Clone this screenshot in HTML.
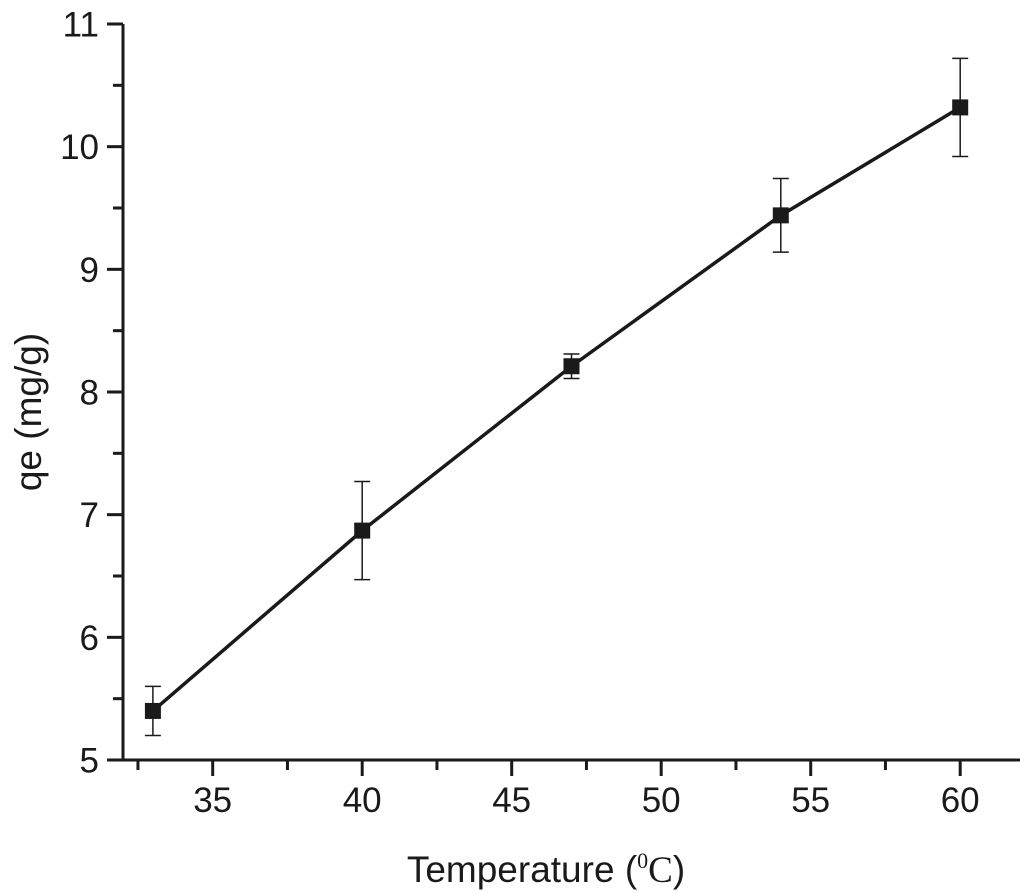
<!DOCTYPE html>
<html><head><meta charset="utf-8"><style>
body{margin:0;background:#fff}
svg{display:block}
text{font-family:"Liberation Sans",sans-serif;fill:#1a1a1a}
</style></head><body>
<svg id="chart" width="1024" height="893" viewBox="0 0 1024 893">
<g id="axes"></g>
<g id="series"></g>
<text x="546" y="882" font-size="37" text-anchor="middle">Temperature (<tspan font-family="Liberation Serif" font-size="22" dy="-14">0</tspan><tspan dy="14" font-family="Liberation Serif">C</tspan>)</text>
<text transform="translate(41,412) rotate(-90)" font-size="37" text-anchor="middle">qe (mg/g)</text>
</svg>
<script>
const temps=[33,40,47,54,60];
const qe=[5.4,6.87,8.21,9.44,10.32];
const errs=[0.2,0.4,0.1,0.3,0.4];
const xTicks=[35,40,45,50,55,60];
const yTicks=[5,6,7,8,9,10,11];
const NS="http://www.w3.org/2000/svg";
const X0=32,X1=62,px0=123,px1=1020;
const Y0=5,Y1=11,py0=760,py1=24;
const sx=v=>px0+(v-X0)*(px1-px0)/(X1-X0);
const sy=v=>py0-(v-Y0)*(py0-py1)/(Y1-Y0);
function mk(tag,attrs,parent){const e=document.createElementNS(NS,tag);for(const k in attrs)e.setAttribute(k,attrs[k]);parent.appendChild(e);return e;}
const ax=document.getElementById('axes');
let e=mk('line',{x1:px0,y1:py1,x2:px0,y2:py0+1,stroke:'#1a1a1a','stroke-width':3},ax);


e=mk('line',{x1:107,y1:py0,x2:px1,y2:py0,stroke:'#1a1a1a','stroke-width':3},ax);


for(let v=32.5;v<=62;v+=2.5){const maj=xTicks.includes(v);
 e=mk('line',{x1:sx(v),y1:py0,x2:sx(v),y2:py0+(maj?16:10),stroke:'#1a1a1a','stroke-width':3},ax);
 
 }
xTicks.forEach(v=>{e=mk('text',{x:sx(v),y:812,'font-size':35,'text-anchor':'middle'},ax);e.textContent=v;
 
 });
for(let v=5;v<=11;v+=0.5){const maj=Number.isInteger(v);
 e=mk('line',{x1:px0,y1:sy(v),x2:px0-(maj?16:10),y2:sy(v),stroke:'#1a1a1a','stroke-width':3},ax);
 
 }
yTicks.forEach(v=>{e=mk('text',{x:99,y:sy(v)+12.5,'font-size':35,'text-anchor':'end'},ax);e.textContent=v;
 
 });
const sr=document.getElementById('series');
e=mk('polyline',{points:temps.map((t,i)=>sx(t)+','+sy(qe[i])).join(' '),fill:'none',stroke:'#1a1a1a','stroke-width':3.5},sr);


temps.forEach((t,i)=>{const x=sx(t),yt=sy(qe[i]+errs[i]),yb=sy(qe[i]-errs[i]);
 const g=mk('g',{stroke:'#1a1a1a','stroke-width':1.5},sr);
 
 
 mk('line',{x1:x,y1:yt,x2:x,y2:yb},g);
 mk('line',{x1:x-8,y1:yt,x2:x+8,y2:yt},g);
 mk('line',{x1:x-8,y1:yb,x2:x+8,y2:yb},g);
 e=mk('rect',{x:x-8,y:sy(qe[i])-8,width:16,height:16,fill:'#1a1a1a'},sr);
 
 });
</script>
</body></html>
